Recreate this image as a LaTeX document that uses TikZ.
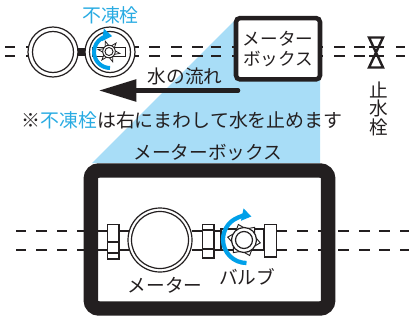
\documentclass[tikz,border=0pt]{standalone}
\usepackage{fontspec}
\setmainfont{Noto Sans CJK JP}
\usetikzlibrary{arrows.meta,calc}
\definecolor{inkblack}{HTML}{231F20}
\definecolor{shadeblue}{HTML}{A8DDF7}
\definecolor{turnblue}{HTML}{00A0E9}
\definecolor{labelblue}{HTML}{29ABE2}
\tikzset{
  label14/.style={text=inkblack,font=\fontsize{14}{16}\selectfont,inner sep=0pt},
  pipetop/.style={inkblack,line width=1.9pt},
  pipebig/.style={inkblack,line width=1.3pt},
  part/.style={draw=inkblack,fill=white,line width=0.9pt},
  turn/.style={turnblue,line width=3pt,-{Triangle[length=7pt,width=9pt]}}
}
\newcommand{\valvegear}[5]{%
  \foreach \a in {10,70,...,310}
    \draw[part,line width=#5] ($(#1,#2)+(\a-22:#3)$) -- ($(#1,#2)+(\a:#4)$) -- ($(#1,#2)+(\a+22:#3)$) -- cycle;
}
\begin{document}
\begin{tikzpicture}[x=0.75pt,y=-0.75pt]
  \useasboundingbox (0,0) rectangle (409,321);
  % shaded view
  \fill[shadeblue] (237,18) -- (92,163) -- (320,163) -- (320,79) -- cycle;
  % upper pipe
  \foreach \a/\b in {5/15,26/30,135/139,149/160,171/182,192/203,211/221,232/236,320/323,334/345,354/365,369/384,396/405}{
    \draw[pipetop] (\a,47) -- (\b,47);
    \draw[pipetop] (\a,56) -- (\b,56);
  }
  \fill[inkblack] (78,48) rectangle (86,56);
  % upper meter and valve
  \draw[part] (53,52) circle [radius=25];
  \draw[part] (53,52) circle [radius=20.5];
  \draw[part] (110,52) circle [radius=25];
  \draw[part] (110,52) circle [radius=20.5];
  \draw[part,line width=0.7pt] (92.5,47.5) rectangle (125.5,56.5);
  \valvegear{109}{51.5}{5.5}{11}{0.6pt}
  \draw[part,line width=0.7pt] (109,51.5) circle [radius=6.3];
  \draw[part,line width=0.7pt] (109,51.5) circle [radius=4];
  \draw[turn] (110,68) arc [start angle=90,end angle=278,radius=16];
  \node[label14,text=labelblue,font=\fontsize{14.2}{16}\selectfont] (frostlabel) at (110.5,15) {不凍栓};
  % stop cock
  \draw[inkblack,line width=1.8pt] (369,37.5) -- (383,37.5) -- (369,67.5) -- (383,67.5) -- cycle;
  \node[label14] (stoplabel1) at (379,90) {止};
  \node[label14] (stoplabel2) at (379,108.5) {水};
  \node[label14] (stoplabel3) at (379,127) {栓};
  % small box
  \node[draw=inkblack,fill=white,line width=3.4pt,rounded corners=3pt,minimum width=63pt,minimum height=46pt,
    align=center,text=inkblack,font=\fontsize{13.2}{15}\selectfont,inner sep=0pt] (smallbox) at (278,48.75) {メーター\\ボックス};
  % flow arrow
  \coordinate (flowtail) at (238,90.5);
  \coordinate (flowhead) at (99,90.5);
  \draw[inkblack,line width=3.4pt,line cap=round,-{Triangle[length=28pt,width=16pt]}] (flowtail) -- (flowhead);
  \node[label14] (flowlabel) at (185,76) {水の流れ};
  \node[label14,font=\fontsize{14.2}{16}\selectfont] (notelabel) at (182,120) {※\textcolor{labelblue}{不凍栓}は右にまわして水を止めます};
  \node[label14] (boxlabel) at (208,153) {メーターボックス};
  % big box
  \node[draw=inkblack,fill=white,line width=10.8pt,rounded corners=6pt,minimum width=178pt,minimum height=103.5pt] (bigbox) at (209.5,239.5) {};
  % lower pipe
  \foreach \a/\b in {16/26,36/47,57/67,77/84,98/107,119/130,192/202,214/221,221/264,277/287,297/308,318/322,338/349,359/370,379/390,400/409}{
    \draw[pipebig] (\a,231) -- (\b,231);
    \draw[pipebig] (\a,250) -- (\b,250);
  }
  % left nut
  \draw[part] (107.5,224.5) rectangle (119,259);
  \draw[part] (107.5,242) -- (119,242);
  \draw[part] (107.5,253) -- (119,253);
  % lower meter
  \draw[part] (160,240) circle [radius=32];
  \draw[part] (160,240) circle [radius=28.5];
  % right nut
  \draw[part] (202.5,224.5) rectangle (214,258);
  \draw[part] (202.5,230) -- (214,230);
  \draw[part] (202.5,249) -- (214,249);
  % lower valve
  \draw[part] (221,229) rectangle (264,250);
  \draw[part] (264.5,224.5) rectangle (276.5,257);
  \valvegear{244}{240}{12}{16.5}{0.7pt}
  \draw[part] (244,240) circle [radius=12.5];
  \draw[part] (244,240) circle [radius=8.5];
  \draw[turn,line width=3.2pt] (246.5,263) arc [start angle=90,end angle=282,radius=23.5];
  \node[label14] (meterlabel) at (165,285) {メーター};
  \node[label14] (valvelabel) at (247,277) {バルブ};
\end{tikzpicture}
\end{document}
